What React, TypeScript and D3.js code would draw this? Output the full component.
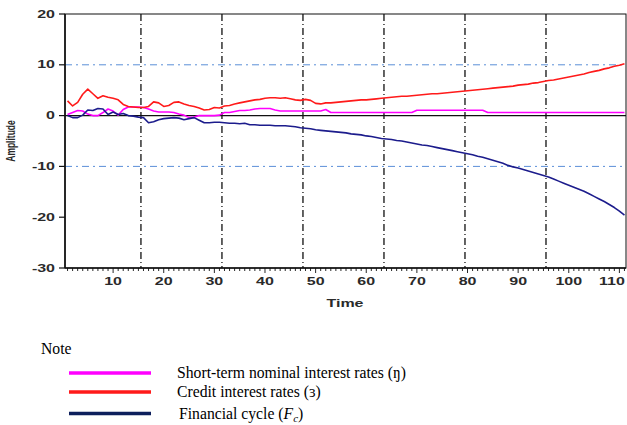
import React from "react";
import * as d3 from "d3";

// quarterly observations 1..111
const creditRate = [
  2.9, 1.9, 2.6, 4.2, 5.2, 4.3, 3.4, 3.9, 3.6, 3.4, 3.1, 2.2, 1.8, 1.7, 1.6, 1.6, 1.8, 2.7, 2.5, 1.8,
  2.0, 2.6, 2.7, 2.3, 2.0, 1.8, 1.5, 1.1, 1.2, 1.6, 1.5, 1.9, 2.0, 2.3, 2.5, 2.7, 2.9, 3.1, 3.2, 3.4,
  3.5, 3.5, 3.4, 3.5, 3.3, 3.1, 3.0, 3.2, 3.0, 2.4, 2.3, 2.5, 2.5, 2.6, 2.7, 2.8, 2.9, 3.0, 3.1, 3.1,
  3.2, 3.3, 3.4, 3.5, 3.6, 3.7, 3.8, 3.8, 3.9, 4.0, 4.1, 4.2, 4.3, 4.3, 4.4, 4.5, 4.6, 4.7, 4.8, 4.9,
  5.0, 5.1, 5.2, 5.3, 5.4, 5.5, 5.6, 5.7, 5.8, 6.0, 6.1, 6.2, 6.4, 6.5, 6.7, 6.9, 7.0, 7.2, 7.4, 7.6,
  7.8, 8.0, 8.2, 8.5, 8.7, 8.9, 9.2, 9.4, 9.7, 9.9, 10.2,
];
const shortRate = [
  0.2, 0.6, 1.0, 0.9, 0.3, 0.0, 0.0, 0.6, 1.3, 0.9, 0.1, 1.2, 1.7, 1.7, 1.7, 1.6, 1.3, 0.9, 0.7, 0.7,
  0.7, 0.6, 0.3, 0.1, -0.4, -0.3, 0.0, 0.0, 0.0, 0.0, 0.1, 0.6, 0.6, 0.8, 1.0, 1.0, 1.1, 1.3, 1.4, 1.4,
  1.4, 1.1, 0.9, 0.9, 0.9, 0.9, 0.9, 0.9, 0.9, 0.9, 0.9, 1.2, 0.6, 0.6, 0.6, 0.6, 0.6, 0.6, 0.6, 0.6,
  0.6, 0.6, 0.6, 0.6, 0.6, 0.6, 0.6, 0.6, 0.6, 1.05, 1.05, 1.05, 1.05, 1.05, 1.05, 1.05, 1.05, 1.05, 1.05, 1.05,
  1.05, 1.05, 1.05, 0.6, 0.6, 0.6, 0.6, 0.6, 0.6, 0.6, 0.6, 0.6, 0.6, 0.6, 0.6, 0.6, 0.6, 0.6, 0.6, 0.6,
  0.6, 0.6, 0.6, 0.6, 0.6, 0.6, 0.6, 0.6, 0.6, 0.6, 0.6,
];
const financialCycle = [
  0.0, -0.4, -0.4, 0.1, 1.1, 1.0, 1.4, 1.3, 0.2, 0.7, 0.2, 0.4, 0.0, -0.1, -0.3, -0.4, -1.4, -1.2, -0.8, -0.6,
  -0.5, -0.4, -0.5, -0.8, -0.6, -0.4, -0.9, -1.4, -1.4, -1.3, -1.3, -1.4, -1.5, -1.5, -1.6, -1.5, -1.8, -1.8, -1.9, -1.9,
  -1.9, -2.0, -2.0, -2.0, -2.1, -2.2, -2.4, -2.5, -2.6, -2.8, -2.9, -3.0, -3.1, -3.2, -3.3, -3.4, -3.6, -3.7, -3.8, -4.0,
  -4.1, -4.3, -4.5, -4.6, -4.7, -4.9, -5.0, -5.2, -5.4, -5.6, -5.8, -5.9, -6.1, -6.3, -6.5, -6.7, -6.9, -7.1, -7.3, -7.5,
  -7.7, -8.0, -8.2, -8.5, -8.8, -9.1, -9.4, -9.8, -10.1, -10.3, -10.6, -10.9, -11.2, -11.5, -11.8, -12.1, -12.5, -12.9, -13.3, -13.7,
  -14.1, -14.5, -14.9, -15.4, -15.9, -16.4, -16.9, -17.5, -18.1, -18.8, -19.6,
];

const yTicks = [20, 10, 0, -10, -20, -30];
const xTicks = [10, 20, 30, 40, 50, 60, 70, 80, 90, 100, 110];
const hGrid = [10, -10];
const vGrid = [15.5, 31.5, 47.5, 63.5, 79.5, 95.5];

const legendItems = [
  { label: "Short-term nominal interest rates (ŋ)", color: "#ff00ff" },
  { label: "Credit interest rates (ɜ)", color: "#ff1a1a" },
  { label: "Financial cycle", color: "#0d1f5c" },
];

const W = 627, H = 425;
const left = 65, right = 626, top = 14, bottom = 268;
const STRETCH = 1.6; // axis text in the picture is widened

export default function App() {
  const x = d3.scaleLinear().domain([0.5, 111.5]).range([left, 627]);
  const y = d3.scaleLinear().domain([-30, 20]).range([bottom, top]);
  const idx = d3.range(1, creditRate.length + 1);
  const line = d3
    .line<number>()
    .x((_, i) => x(idx[i]))
    .y((d) => y(d));
  const minor = d3.range(1, 112);
  const axisFont = { fontFamily: "Liberation Sans, Arial, sans-serif", fontSize: 10, fontWeight: 700, fill: "#2a2a2a" };

  return (
    <svg width={W} height={H} style={{ position: "absolute", left: 0, top: 0, background: "#fff" }}>
      <defs>
        <clipPath id="plot">
          <rect x={left} y={top} width={right - left} height={bottom - top} />
        </clipPath>
      </defs>

      {/* grid */}
      {hGrid.map((v) => (
        <line key={"h" + v} x1={left} x2={right} y1={y(v)} y2={y(v)} stroke="#5b8fd8" strokeWidth={1} strokeDasharray="7,4,2,4" />
      ))}
      {vGrid.map((v) => (
        <line key={"v" + v} x1={x(v)} x2={x(v)} y1={top} y2={bottom} stroke="#111" strokeWidth={1.3} strokeDasharray="7,3,1,3" />
      ))}
      <line x1={left} x2={right} y1={y(0)} y2={y(0)} stroke="#111" strokeWidth={1.2} />

      {/* series */}
      <g clipPath="url(#plot)" fill="none" strokeWidth={1.6} strokeLinejoin="round">
        <path d={line(shortRate) || ""} stroke="#ff00ff" />
        <path d={line(creditRate) || ""} stroke="#ff1a1a" />
        <path d={line(financialCycle) || ""} stroke="#1c1c8c" />
      </g>

      {/* frame */}
      <rect x={left} y={top} width={right - left} height={bottom - top} fill="none" stroke="#111" strokeWidth={1} />
      <line x1={left} x2={left} y1={top} y2={bottom} stroke="#111" strokeWidth={1.6} />
      <line x1={left} x2={right} y1={bottom} y2={bottom} stroke="#111" strokeWidth={1.6} />

      {/* y axis */}
      {yTicks.map((v) => (
        <g key={"yt" + v}>
          <line x1={left - 6} x2={left} y1={y(v)} y2={y(v)} stroke="#111" strokeWidth={1.2} />
          <text transform={`translate(${left - 10},${y(v) + 3.5}) scale(${STRETCH},1)`} textAnchor="end" {...axisFont}>
            {v}
          </text>
        </g>
      ))}
      <text transform={`translate(15,141) rotate(-90) scale(1,${STRETCH})`} textAnchor="middle" {...axisFont} fontSize={8.5}>
        Amplitude
      </text>

      {/* x axis */}
      {minor.map((v) => (
        <line key={"xm" + v} x1={x(v)} x2={x(v)} y1={bottom} y2={bottom + (v % 10 === 0 ? 5 : 3)} stroke="#111" strokeWidth={0.9} />
      ))}
      {xTicks.map((v) => (
        <text key={"xt" + v} transform={`translate(${Math.min(x(v), 612)},${bottom + 17}) scale(${STRETCH},1)`} textAnchor="middle" {...axisFont}>
          {v}
        </text>
      ))}
      <text transform={`translate(345,307) scale(${STRETCH},1)`} textAnchor="middle" {...axisFont}>
        Time
      </text>

      {/* legend */}
      <g fontFamily="Liberation Serif, Times New Roman, serif" fontSize={15.7} fill="#000">
        <text x={41} y={354}>Note</text>
        {legendItems.map((it, i) => {
          const ly = [373, 392, 413.5][i];
          return (
            <g key={it.label}>
              <line x1={69} x2={151} y1={ly} y2={ly} stroke={it.color} strokeWidth={3.5} />
              <text x={i === 2 ? 179 : 177} y={ly + 5}>
                {it.label}
                {i === 2 && (
                  <>
                    {" ("}
                    <tspan fontStyle="italic">F</tspan>
                    <tspan fontStyle="italic" fontSize={11} dy={3}>c</tspan>
                    <tspan dy={-3}>)</tspan>
                  </>
                )}
              </text>
            </g>
          );
        })}
      </g>
    </svg>
  );
}
